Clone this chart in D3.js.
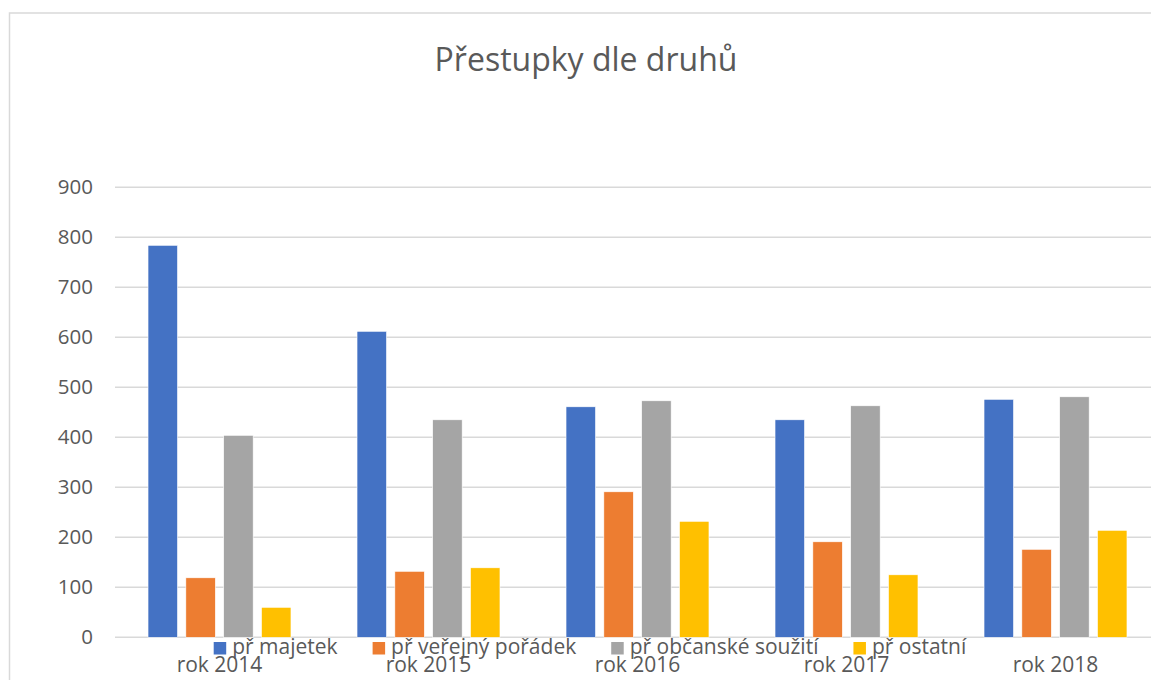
<!DOCTYPE html>
<html><head><meta charset="utf-8">
<script src="https://cdn.jsdelivr.net/npm/d3@7"></script>
<style>body{margin:0;background:#fff;} text{font-family:"Open Sans",sans-serif;fill:#595959;}</style>
</head><body>
<svg id="c" width="1151" height="680"></svg>
<script>
const title = "Přestupky dle druhů";
const categories = ["rok 2014","rok 2015","rok 2016","rok 2017","rok 2018"];
const seriesNames = ["př majetek","př veřejný pořádek","př občanské soužití","př ostatní"];
const majetek = [784, 612, 461, 435, 476];
const verejnyPoradek = [119, 132, 291, 191, 176];
const obcanskeSouziti = [404, 435, 473, 463, 481];
const ostatni = [60, 139, 232, 125, 214];
const yTicks = [0,100,200,300,400,500,600,700,800,900];
const colors = ["#4472C4","#ED7D31","#A5A5A5","#FFC000"];
const seriesValues = [majetek, verejnyPoradek, obcanskeSouziti, ostatni];

const svg = d3.select("#c");
// chart border
svg.append("rect").attr("x",9.5).attr("y",13).attr("width",1160).attr("height",700)
  .attr("fill","none").attr("stroke","#d9d9d9").attr("stroke-width",1.5);

const x0 = d3.scaleBand().domain(categories).range([115,1160]).paddingInner(0).paddingOuter(0);
const bw = x0.bandwidth();
const x1 = d3.scaleBand().domain(seriesNames).range([bw*0.158, bw*0.842]).paddingInner(0.22).paddingOuter(0);
const y = d3.scaleLinear().domain([0,900]).range([637.3,187.3]);

// gridlines
svg.append("g").selectAll("line").data(yTicks).join("line")
  .attr("x1",115).attr("x2",1151).attr("y1",d=>y(d)).attr("y2",d=>y(d))
  .attr("stroke","#d9d9d9").attr("stroke-width",1.4);

// y axis labels
const yAxis = d3.axisLeft(y).tickValues(yTicks).tickSize(0).tickPadding(0);
const ya = svg.append("g").attr("transform","translate(93,0)").call(yAxis);
ya.select(".domain").remove();
ya.selectAll("text").style("font-size","20.5px").attr("fill","#595959").style("font-family","'Open Sans',sans-serif");

// bars
const rows = categories.map((c,i)=>({cat:c, vals: seriesNames.map((s,j)=>({s, v: seriesValues[j][i], c: colors[j]}))}));
const g = svg.append("g").selectAll("g").data(rows).join("g").attr("transform",d=>`translate(${x0(d.cat)},0)`);
g.selectAll("rect").data(d=>d.vals).join("rect")
  .attr("x",d=>x1(d.s)).attr("width",x1.bandwidth())
  .attr("y",d=>y(d.v)).attr("height",d=>y(0)-y(d.v))
  .attr("fill",d=>d.c).attr("stroke","#fff").attr("stroke-width",0.6);

// category labels
const xAxis = d3.axisBottom(x0).tickSize(0).tickPadding(0);
const xa = svg.append("g").attr("transform","translate(0,657)").call(xAxis);
xa.select(".domain").remove();
xa.selectAll("text").style("font-size","21px").attr("fill","#595959").style("font-family","'Open Sans',sans-serif").attr("dy","0.71em");

// title
svg.append("text").attr("x",586).attr("y",71).attr("text-anchor","middle")
  .style("font-size","32px").text(title);

// legend
const leg = svg.append("g");
const items = leg.selectAll("g").data(seriesNames).join("g");
items.append("rect").attr("width",12.5).attr("height",12.5).attr("y",-12).attr("fill",(d,i)=>colors[i]);
items.append("text").attr("x",18.5).attr("y",0).style("font-size","21px").attr("dy","-0.5").text(d=>d);
let xpos = 0;
items.each(function(){
  const w = this.querySelector("text").getComputedTextLength();
  d3.select(this).attr("transform",`translate(${xpos},0)`);
  xpos += 18.5 + w + 35;
});
const total = xpos - 35;
leg.attr("transform",`translate(${590 - total/2},654)`);
</script>
</body></html>
